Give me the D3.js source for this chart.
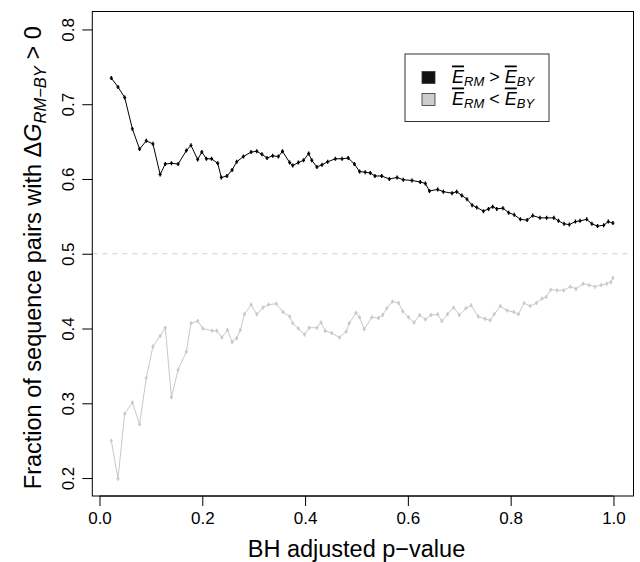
<!DOCTYPE html>
<html lang="en">
  <head>
    <meta charset="UTF-8" />
    <title>Fraction of sequence pairs</title>
    <style>
      body { margin: 0; background: #fff; }
      svg text { font-family: "Liberation Sans", Arial, sans-serif; }
    </style>
  </head>
  <body>
    <svg id="svg" width="640" height="562"></svg>

    <script src="https://cdn.jsdelivr.net/npm/d3@7"></script>
    <script>
      const WIDTH = 640;
      const HEIGHT = 562;

      // BH adjusted p-value (x) and fraction (y)
      const rmHigherP = [0.023, 0.036, 0.049, 0.064, 0.078, 0.091, 0.104, 0.118, 0.128, 0.140,
        0.153, 0.169, 0.178, 0.191, 0.199, 0.208, 0.218, 0.230, 0.237, 0.248,
        0.258, 0.267, 0.280, 0.295, 0.306, 0.316, 0.326, 0.337, 0.348, 0.356,
        0.370, 0.376, 0.387, 0.397, 0.407, 0.413, 0.423, 0.433, 0.444, 0.459,
        0.472, 0.484, 0.496, 0.506, 0.517, 0.527, 0.536, 0.549, 0.564, 0.579,
        0.591, 0.608, 0.624, 0.634, 0.642, 0.658, 0.669, 0.686, 0.695, 0.705,
        0.715, 0.725, 0.734, 0.747, 0.757, 0.765, 0.773, 0.785, 0.796, 0.807,
        0.819, 0.832, 0.843, 0.857, 0.870, 0.884, 0.893, 0.904, 0.914, 0.926,
        0.935, 0.948, 0.958, 0.969, 0.981, 0.990, 0.999];
      const rmHigherFrac = [0.735, 0.723, 0.709, 0.667, 0.640, 0.651, 0.647, 0.606, 0.620, 0.621,
        0.620, 0.638, 0.645, 0.626, 0.636, 0.627, 0.627, 0.621, 0.602, 0.604,
        0.612, 0.623, 0.630, 0.636, 0.637, 0.633, 0.628, 0.631, 0.630, 0.637,
        0.622, 0.618, 0.622, 0.625, 0.634, 0.625, 0.616, 0.619, 0.623, 0.627,
        0.627, 0.628, 0.620, 0.610, 0.609, 0.608, 0.604, 0.604, 0.600, 0.602,
        0.599, 0.598, 0.596, 0.594, 0.584, 0.586, 0.583, 0.581, 0.583, 0.578,
        0.573, 0.565, 0.562, 0.557, 0.560, 0.563, 0.560, 0.561, 0.555, 0.552,
        0.546, 0.545, 0.551, 0.548, 0.548, 0.548, 0.544, 0.540, 0.539, 0.543,
        0.544, 0.546, 0.540, 0.537, 0.538, 0.543, 0.541];

      const rmLowerP = [0.023, 0.036, 0.049, 0.064, 0.078, 0.091, 0.104, 0.118, 0.128, 0.140,
        0.153, 0.169, 0.178, 0.191, 0.201, 0.219, 0.228, 0.238, 0.249, 0.258,
        0.267, 0.274, 0.282, 0.295, 0.306, 0.318, 0.329, 0.344, 0.357, 0.370,
        0.376, 0.387, 0.399, 0.408, 0.423, 0.431, 0.439, 0.452, 0.467, 0.480,
        0.486, 0.499, 0.506, 0.515, 0.530, 0.543, 0.551, 0.559, 0.570, 0.582,
        0.590, 0.601, 0.612, 0.623, 0.634, 0.645, 0.658, 0.666, 0.677, 0.689,
        0.700, 0.713, 0.723, 0.737, 0.750, 0.760, 0.768, 0.780, 0.793, 0.806,
        0.815, 0.826, 0.838, 0.850, 0.861, 0.869, 0.878, 0.890, 0.903, 0.916,
        0.927, 0.941, 0.953, 0.964, 0.976, 0.987, 0.995, 0.999];
      const rmLowerFrac = [0.250, 0.199, 0.286, 0.301, 0.272, 0.334, 0.376, 0.390, 0.401, 0.308,
        0.345, 0.369, 0.407, 0.410, 0.400, 0.397, 0.397, 0.388, 0.398, 0.382,
        0.387, 0.398, 0.419, 0.432, 0.419, 0.428, 0.432, 0.433, 0.422, 0.416,
        0.407, 0.400, 0.392, 0.401, 0.401, 0.408, 0.397, 0.394, 0.388, 0.396,
        0.407, 0.421, 0.415, 0.399, 0.415, 0.414, 0.418, 0.427, 0.436, 0.434,
        0.423, 0.415, 0.408, 0.418, 0.412, 0.418, 0.419, 0.410, 0.419, 0.428,
        0.418, 0.427, 0.431, 0.416, 0.413, 0.411, 0.419, 0.430, 0.424, 0.422,
        0.419, 0.434, 0.430, 0.434, 0.440, 0.442, 0.452, 0.451, 0.451, 0.456,
        0.453, 0.460, 0.458, 0.456, 0.458, 0.460, 0.462, 0.468];

      const xTicks = [0, 0.2, 0.4, 0.6, 0.8, 1.0];
      const yTicks = [0.2, 0.3, 0.4, 0.5, 0.6, 0.7, 0.8];

      // R-style axis limits (4% padding)
      const xLim = [0.025, 1.0];
      const yLim = [0.2, 0.8];
      const pad = (lim) => {
        const d = (lim[1] - lim[0]) * 0.04;
        return [lim[0] - d, lim[1] + d];
      };

      const x = d3.scaleLinear().domain(pad(xLim)).range([92.3, 633.5]);
      const y = d3.scaleLinear().domain(pad(yLim)).range([496, 11.5]);

      const svg = d3.select("#svg");

      const toPoints = (ps, fs) => ps.map((p, i) => ({ p: p, f: fs[i] }));
      const black = toPoints(rmHigherP, rmHigherFrac);
      const grey = toPoints(rmLowerP, rmLowerFrac);

      const line = d3
        .line()
        .x((d) => x(d.p))
        .y((d) => y(d.f));

      // reference line at 0.5
      svg
        .append("line")
        .attr("x1", x.range()[0])
        .attr("x2", x.range()[1])
        .attr("y1", y(0.5))
        .attr("y2", y(0.5))
        .attr("stroke", "#cfcfcf")
        .attr("stroke-dasharray", "5,5");

      function drawSeries(data, colour) {
        const g = svg.append("g");
        g.append("path")
          .attr("d", line(data))
          .attr("fill", "none")
          .attr("stroke", colour)
          .attr("stroke-width", 1);
        g.selectAll("path.mark")
          .data(data)
          .enter()
          .append("path")
          .attr("class", "mark")
          .attr("d", (d) => {
            const cx = x(d.p), cy = y(d.f);
            return `M${cx - 1.5},${cy}H${cx + 1.5}M${cx},${cy - 2}V${cy + 2}`;
          })
          .attr("stroke", colour)
          .attr("stroke-width", 1.4);
      }
      drawSeries(grey, "#c8c8c8");
      drawSeries(black, "#000");

      // plot box
      svg
        .append("rect")
        .attr("x", x.range()[0])
        .attr("y", y.range()[1])
        .attr("width", x.range()[1] - x.range()[0])
        .attr("height", y.range()[0] - y.range()[1])
        .attr("fill", "none")
        .attr("stroke", "#000")
        .attr("stroke-width", 1);

      // axes: R style, ticks only spanning data
      const xAxis = svg
        .append("g")
        .attr("transform", `translate(0, ${y.range()[0]})`)
        .call(
          d3.axisBottom(x).tickValues(xTicks).tickSize(10).tickPadding(6)
            .tickFormat(d3.format(".1f"))
        );
      xAxis.select(".domain")
        .attr("d", `M${x(0)},0H${x(1)}`);

      const yAxis = svg
        .append("g")
        .attr("transform", `translate(${x.range()[0]}, 0)`)
        .call(d3.axisLeft(y).tickValues(yTicks).tickSize(10).tickFormat(d3.format(".1f")));
      yAxis.select(".domain").remove();
      yAxis.selectAll(".tick text")
        .attr("transform", "rotate(-90)")
        .attr("x", 0)
        .attr("y", -18)
        .attr("dy", 0)
        .attr("text-anchor", "middle");

      svg.selectAll(".tick text")
        .attr("font-size", 17)
        .attr("font-family", "Liberation Sans, Arial, sans-serif")
        .attr("fill", "#000");
      xAxis.selectAll(".tick text").attr("dy", "0.71em");

      // axis titles
      svg
        .append("text")
        .attr("x", x(0.5))
        .attr("y", 557)
        .attr("text-anchor", "middle")
        .attr("font-size", 23.5)
        .text("BH adjusted p\u2212value");

      const yTitle = svg
        .append("text")
        .attr("transform", `translate(41, ${y(0.5) + 4}) rotate(-90)`)
        .attr("text-anchor", "middle")
        .attr("font-size", 23.5);
      yTitle.append("tspan").text("Fraction of sequence pairs with \u0394");
      yTitle.append("tspan").attr("font-style", "italic").text("G");
      yTitle.append("tspan").attr("font-style", "italic").attr("font-size", 16.5)
        .attr("dy", 5).text("RM\u2212BY");
      yTitle.append("tspan").attr("dy", -5).text(" > 0");

      // legend
      const legend = svg.append("g").attr("transform", "translate(405, 54)");
      legend
        .append("rect")
        .attr("width", 144)
        .attr("height", 67.5)
        .attr("fill", "#fff")
        .attr("stroke", "#333")
        .attr("stroke-width", 1);
      const entries = [
        { fill: "#111", op: ">" },
        { fill: "#cdcdcd", op: "<" }
      ];
      entries.forEach((e, i) => {
        const row = legend.append("g").attr("transform", `translate(0, ${23.5 + i * 22})`);
        row.append("rect")
          .attr("x", 17)
          .attr("y", -6)
          .attr("width", 13)
          .attr("height", 12)
          .attr("fill", e.fill)
          .attr("stroke", "#333")
          .attr("stroke-width", 0.8);
        const t = row.append("text").attr("x", 47).attr("y", 5).attr("font-size", 18);
        t.append("tspan").attr("font-style", "italic").attr("text-decoration", "overline").text("E");
        t.append("tspan").attr("font-style", "italic").attr("font-size", 13).attr("dy", 3).text("RM");
        t.append("tspan").attr("dy", -3).text(" " + e.op + " ");
        t.append("tspan").attr("font-style", "italic").attr("text-decoration", "overline").text("E");
        t.append("tspan").attr("font-style", "italic").attr("font-size", 13).attr("dy", 3).text("BY");
      });
    </script>
  </body>
</html>
